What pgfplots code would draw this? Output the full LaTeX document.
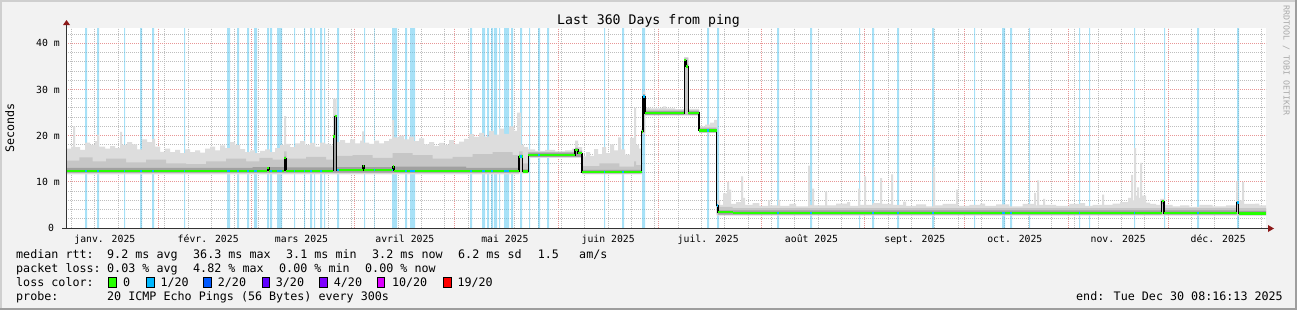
\documentclass[border=0pt]{standalone}
\usepackage{pgfplots}
\pgfplotsset{compat=1.18}
\usepackage{fontspec}
\setmainfont{DejaVu Sans Mono}
\setmonofont{DejaVu Sans Mono}
\definecolor{canvas}{RGB}{242,242,242}
\definecolor{shadea}{RGB}{207,207,207}
\definecolor{shadeb}{RGB}{158,158,158}
\definecolor{lossbg}{RGB}{81,197,241}
\definecolor{smokeA}{RGB}{221,221,221}
\definecolor{smokeB}{RGB}{198,198,198}
\definecolor{smokeC}{RGB}{160,160,160}
\definecolor{mgrid}{RGB}{232,150,150}
\definecolor{ngrid}{RGB}{190,190,190}
\definecolor{arrowred}{RGB}{140,25,25}
\definecolor{wmark}{RGB}{170,170,170}
\definecolor{l0}{HTML}{26FF00}
\definecolor{l1}{HTML}{00B8FF}
\definecolor{l2}{HTML}{0059FF}
\definecolor{l3}{HTML}{5E00FF}
\definecolor{l4}{HTML}{7E00FF}
\definecolor{l10}{HTML}{DD00FF}
\definecolor{l19}{HTML}{FF0000}
\newcommand\legfont{\fontsize{11.7bp}{14bp}\selectfont}
\newcommand\axfont{\fontsize{9.8bp}{12bp}\selectfont}
\newcommand\titfont{\fontsize{13.2bp}{16bp}\selectfont}
\begin{document}
\begin{tikzpicture}
\useasboundingbox (0,0) rectangle (1297bp,-310bp);
\fill[canvas] (0,0) rectangle (1297bp,-310bp);
\fill[shadea] (0,0) rectangle (1297bp,-2bp);
\fill[shadea] (0,0) rectangle (2bp,-310bp);
\fill[shadeb] (0,-308bp) rectangle (1297bp,-310bp);
\fill[shadeb] (1295bp,0) rectangle (1297bp,-310bp);
\fill[white] (66bp,-228bp) rectangle (1266bp,-28bp);
\begin{axis}[
  at={(66bp,-228bp)}, anchor=south west,
  scale only axis, width=1200bp, height=200bp,
  xmin=0, xmax=360, ymin=0, ymax=43.29,
  axis line style={draw=none},
  axis on top=false,
  xtick={27.66,55.66,86.66,116.66,147.66,177.66,208.66,239.66,269.66,300.66,330.66},
  xticklabels={{},{},{},{},{},{},{},{},{},{},{}},
  minor xtick={1.66,8.66,...,358.66},
  extra x ticks={11.66,42.66,70.66,101.66,131.66,162.66,192.66,223.66,254.66,284.66,315.66,345.66},
  extra x tick labels={janv. 2025,févr. 2025,mars 2025,avril 2025,mai 2025,juin 2025,juil. 2025,août 2025,sept. 2025,oct. 2025,nov. 2025,déc. 2025},
  extra x tick style={grid=none, major tick length=0pt},
  ytick={0,10,20,30,40},
  yticklabels={0~~,10 m,20 m,30 m,40 m},
  minor ytick={2,4,...,42},
  grid=both,
  major grid style={draw=mgrid, line width=0.8bp, dash pattern=on 1bp off 1bp},
  minor grid style={draw=ngrid, line width=0.8bp, dash pattern=on 1bp off 1bp},
  major tick length=0pt, minor tick length=0pt,
  tick style={draw=none},
  tick label style={font=\axfont, text=black},
  xticklabel style={anchor=base, inner sep=0pt, yshift=-14bp},
  yticklabel style={anchor=base east, inner sep=0pt, xshift=-6bp, yshift=-3.6bp},
]
% loss background bars (semi-transparent, grid shows through)
\addplot[fill=lossbg, fill opacity=0.5, draw=none, const plot] coordinates {
(0,0) (5.7,43.29) (6.3,0) (9.3,43.29) (9.9,0) (17.4,43.29) (17.7,0) (22.2,43.29) (22.8,0)
(25.8,43.29) (26.4,0) (35.4,43.29) (35.7,0) (48.3,43.29) (49.2,0) (51.3,43.29) (51.9,0)
(54.3,43.29) (54.9,0) (56.4,43.29) (57.3,0) (60.3,43.29) (60.9,0) (61.2,43.29) (61.8,0)
(63.3,43.29) (64.8,0) (68.4,43.29) (68.7,0) (71.4,43.29) (71.7,0) (73.2,43.29) (73.8,0)
(74.4,43.29) (74.7,0) (76.2,43.29) (76.8,0) (77.4,43.29) (77.7,0) (81.3,43.29) (81.9,0)
(89.4,43.29) (89.7,0) (92.4,43.29) (92.6,0) (97.8,43.29) (99.3,0) (101.7,43.29) (102.3,0)
(103.2,43.29) (104.7,0) (121.2,43.29) (121.8,0) (124.8,43.29) (125.7,0) (126.3,43.29) (126.9,0)
(127.5,43.29) (128.1,0) (128.4,43.29) (129.3,0) (129.9,43.29) (130.2,0) (131.4,43.29) (132.9,0)
(133.5,43.29) (134.1,0) (136.2,43.29) (136.8,0) (138.9,43.29) (139.2,0) (141.6,43.29) (142.2,0)
(144.3,43.29) (144.9,0) (161.4,43.29) (161.7,0) (166.8,43.29) (167.4,0) (172.8,43.29) (173.7,0)
(192.3,43.29) (192.9,0) (195.3,43.29) (195.9,0) (213.3,43.29) (213.9,0) (223.2,43.29) (223.8,0)
(237.9,43.29) (238.2,0) (241.8,43.29) (242.4,0) (249.3,43.29) (249.9,0) (259.8,43.29) (260.4,0)
(272.4,43.29) (272.7,0) (280.8,43.29) (281.7,0) (283.2,43.29) (283.8,0) (288.9,43.29) (289.2,0)
(303.9,43.29) (304.2,0) (306.9,43.29) (307.2,0) (320.4,43.29) (320.7,0) (329.4,43.29) (329.7,0)
(339.3,43.29) (339.9,0) (351.3,43.29) (351.9,0) (360,0)
};
% light smoke: max envelope, then min envelope reversed
\addplot[fill=smokeA, draw=none, const plot] coordinates {
(0,17.2) (1.5,17.6) (2.1,22.0) (2.7,17.5) (4.2,16.9) (5.7,18.5) (7.2,18.0) (8.7,18.8) (9.3,20.2)
(9.9,17.6) (11.7,17.2) (13.2,17.7) (14.7,17.3) (16.2,20.8) (16.8,18.0) (18.3,18.6) (19.8,18.1)
(21.3,17.0) (22.8,19.2) (24.3,18.6) (25.8,19.3) (26.7,17.6) (28.2,16.5) (29.7,17.2) (31.2,16.4)
(32.7,16.9) (34.2,16.2) (35.7,17.0) (37.2,16.4) (38.7,16.8) (40.2,16.3) (41.7,17.2) (43.2,17.6)
(44.7,16.8) (46.2,17.9) (47.7,17.3) (49.2,18.6) (50.7,18.0) (52.2,17.1) (53.7,16.4) (55.2,16.8)
(56.7,16.2) (58.2,16.7) (59.7,17.0) (61.2,16.4) (62.7,17.3) (64.2,18.0) (65.4,24.2) (66.0,18.2)
(67.2,17.5) (68.7,18.3) (70.2,18.8) (71.7,18.0) (73.2,18.4) (74.7,17.6) (76.2,18.5) (77.7,18.2)
(79.2,17.9) (80.1,28.0) (81.15,18.6) (82.2,19.0) (83.7,18.4) (85.2,19.2) (86.7,18.3) (88.2,18.9)
(88.8,20.9) (89.4,18.5) (90.9,18.2) (92.4,18.9) (93.9,18.3) (95.4,18.8) (96.9,19.3) (97.8,23.4)
(98.4,19.6) (99.9,20.0) (101.4,19.2) (102.9,19.8) (104.4,18.8) (105.9,19.4) (107.4,18.1) (108.9,18.6)
(110.4,17.8) (111.9,18.4) (113.4,18.0) (114.9,19.0) (116.4,18.2) (117.9,18.7) (119.4,19.3) (120.9,20.3)
(122.4,19.7) (123.9,20.6) (125.4,19.8) (126.9,21.0) (128.4,20.2) (129.9,21.5) (131.4,20.4) (132.9,22.0)
(134.4,21.0) (135.3,25.0) (136.5,18.0) (137.4,17.5) (138.6,17.0) (140.7,16.7) (143.7,16.9) (146.7,16.6)
(149.7,16.8) (151.8,17.2) (152.7,18.9) (153.6,17.5) (154.8,15.5) (156.0,16.4) (157.2,15.6) (158.4,17.1)
(159.6,16.0) (160.8,17.5) (162.0,16.2) (163.2,18.1) (164.4,16.8) (165.6,19.6) (166.5,17.0) (167.7,15.9)
(169.2,19.5) (170.4,26.0) (171.0,18.0) (171.9,17.2) (172.7,21.5) (173.1,29.5) (173.7,26.0) (175.2,25.9)
(178.2,26.0) (179.1,26.3) (180.0,25.9) (182.7,25.7) (185.4,37.0) (186.7,25.8) (189.9,22.0) (191.7,22.4)
(193.2,22.8) (194.4,23.4) (195.3,6.0) (196.2,5.0) (197.1,7.5) (198.3,10.0) (198.9,8.3) (199.5,5.2)
(201.0,5.6) (202.5,11.2) (203.1,6.5) (203.7,5.0) (206,5.4) (208,4.8) (210.6,6.0) (211.2,4.9)
(213.6,6.1) (214.2,4.8) (217,5.2) (219,4.7) (222.6,13.5) (223.2,5.0) (223.8,8.5) (224.4,4.9)
(227.7,7.9) (228.3,4.9) (231,5.3) (234.3,5.6) (235.2,4.8) (237.6,8.5) (238.2,5.0) (239.4,11.2)
(240.0,5.0) (242,5.4) (244.2,10.8) (244.8,5.2) (247.5,11.6) (248.1,5.0) (251.1,5.7) (252.0,4.8)
(255,5.1) (258,4.7) (260.1,13.2) (260.7,4.9) (263,5.2) (267.0,8.3) (267.6,4.8) (271,5.0)
(274.2,5.3) (275.7,4.8) (279,5.1) (283,4.7) (287,5.2) (290.4,7.6) (291.0,4.9) (291.3,10.3)
(291.9,5.0) (293.1,6.3) (293.7,5.0) (297,4.8) (301,5.2) (304.2,5.4) (305.7,4.8) (308,5.0)
(310.8,7.2) (311.4,5.0) (314,5.3) (316.2,5.6) (318.6,6.5) (319.5,11.5) (320.1,6.0) (320.4,17.3)
(321.0,7.0) (321.3,8.8) (321.9,6.5) (322.2,14.1) (322.8,7.0) (324.0,5.5) (325.2,5.2) (327,5.0)
(328.2,6.3) (329.7,5.0) (332,4.7) (334.2,4.9) (337,4.6) (340,5.0) (344,4.7) (348,4.9)
(351.0,10.1) (351.6,6.0) (352.8,10.0) (353.4,5.2) (356.7,5.3) (358,4.9) (360,4.9)
(360,2.7) (195.2,20.6) (189.9,24.3) (173.7,20.4) (172.7,11.6) (154.8,15.2) (138.6,11.8) (135.9,11.6) (0,11.6)
};
% mid smoke
\addplot[fill=smokeB, draw=none, const plot] coordinates {
(0,14.6) (4,15.3) (8,14.4) (12,15.0) (18,14.2) (24,14.8) (30,14.0) (36,13.8) (42,14.4) (48,15.0)
(54,14.4) (58,15.2) (62,14.8) (65.4,16.6) (66.2,15.0) (72,15.4) (78,14.8) (80.1,20.5) (81.2,15.6)
(86,15.8) (92,15.2) (98,16.2) (104,15.8) (110,15.0) (116,15.4) (122,16.0) (128,16.4) (134,15.8)
(135.9,16.6) (137.0,14.0) (138.6,16.5) (152.7,17.4) (153.6,16.8) (154.8,13.4) (160,14.0) (166,13.3)
(170.4,14.4) (171,13.6) (172.7,21.5) (173.1,29.0) (173.7,25.6) (185.5,36.8) (186.7,25.5) (189.9,21.8)
(195.2,5.0) (196,4.6) (200,4.3) (328.7,6.0) (329.4,4.3) (351.2,5.8) (351.8,4.3) (360,4.3)
(360,2.9) (195.2,20.8) (189.9,24.5) (173.7,20.6) (172.7,11.8) (154.8,15.4) (138.6,12.0) (135.9,11.9) (0,11.9)
};
% dark smoke
\addplot[fill=smokeC, draw=none, const plot] coordinates {
(0,13.0) (56,13.2) (65.5,15.5) (66.0,13.1) (80.2,20.1) (80.55,24.5) (81.15,13.2) (98,13.3) (120,13.0)
(135.9,15.9) (137.0,12.7) (138.7,16.3) (152.7,17.3) (153.6,16.6) (154.8,12.6) (172.7,21.3) (173.1,28.9)
(173.7,25.3) (185.5,36.6) (186.0,35.4) (186.7,25.3) (189.9,21.5) (195.2,5.1) (195.6,3.8) (328.7,6.1)
(329.4,3.8) (351.2,5.8) (351.8,3.7) (360,3.7)
(360,2.8) (351.8,5.0) (351.2,2.9) (329.4,5.2) (328.7,2.9) (195.6,4.5) (195.2,20.7) (189.9,24.5)
(186.7,35.2) (185.5,24.5) (173.7,28.0) (173.1,20.5) (172.7,11.8) (154.8,15.4) (138.7,11.9) (137.0,15.1)
(135.9,12.0) (0,12.0)
};
% median: black steps
\addplot[black, line width=1.3bp, const plot] coordinates {
(0,12.4) (60.4,13.0) (60.9,12.4) (65.5,15.1) (66.0,12.4) (80.2,19.8) (80.55,24.2) (81.15,12.5)
(89.1,13.4) (89.5,12.5) (98.1,13.3) (98.5,12.4) (115,12.3) (135.9,15.5) (137.0,12.2) (138.7,15.8)
(152.7,16.9) (153.6,16.2) (154.8,12.1) (172.7,20.9) (173.1,28.5) (173.7,24.9) (185.5,36.3) (186.0,35.0)
(186.7,24.9) (189.9,21.1) (195.2,4.9) (195.6,3.4) (200,3.3) (328.7,5.8) (329.4,3.2) (351.2,5.5)
(351.8,3.1) (360,3.1)
};
% median: green levels (loss 0)
\addplot[l0, line width=2.4bp, unbounded coords=jump] table {
x y
0 12.4
60.4 12.4
nan nan
60.4 13.0
60.9 13.0
nan nan
60.9 12.4
65.5 12.4
nan nan
65.5 15.1
66.0 15.1
nan nan
66.0 12.4
80.2 12.4
nan nan
80.2 19.8
80.55 19.8
nan nan
80.55 24.2
81.15 24.2
nan nan
81.15 12.5
89.1 12.5
nan nan
89.1 13.4
89.5 13.4
nan nan
89.5 12.5
98.1 12.5
nan nan
98.1 13.3
98.5 13.3
nan nan
98.5 12.4
115 12.4
nan nan
115 12.3
135.9 12.3
nan nan
135.9 15.5
137.0 15.5
nan nan
137.0 12.2
138.7 12.2
nan nan
138.7 15.8
152.7 15.8
nan nan
152.7 16.9
153.6 16.9
nan nan
153.6 16.2
154.8 16.2
nan nan
154.8 12.1
172.7 12.1
nan nan
172.7 20.9
173.1 20.9
nan nan
173.1 28.5
173.7 28.5
nan nan
173.7 24.9
185.5 24.9
nan nan
185.5 36.3
186.0 36.3
nan nan
186.0 35.0
186.7 35.0
nan nan
186.7 24.9
189.9 24.9
nan nan
189.9 21.1
195.2 21.1
nan nan
195.2 4.9
195.6 4.9
nan nan
195.6 3.4
200 3.4
nan nan
200 3.3
328.7 3.3
nan nan
328.7 5.8
329.4 5.8
nan nan
329.4 3.2
351.2 3.2
nan nan
351.2 5.5
351.8 5.5
nan nan
351.8 3.1
360 3.1
};
% loss-coloured spots on the median
\addplot[l1, line width=2.4bp, unbounded coords=jump] table {
x y
5.7 12.4
6.3 12.4
nan nan
9.3 12.4
9.9 12.4
nan nan
17.4 12.4
17.7 12.4
nan nan
22.2 12.4
22.8 12.4
nan nan
25.8 12.4
26.4 12.4
nan nan
35.4 12.4
35.7 12.4
nan nan
48.3 12.4
49.2 12.4
nan nan
51.3 12.4
51.9 12.4
nan nan
54.3 12.4
54.9 12.4
nan nan
56.4 12.4
57.3 12.4
nan nan
61.2 12.4
61.8 12.4
nan nan
63.3 12.4
64.8 12.4
nan nan
68.4 12.4
68.7 12.4
nan nan
71.4 12.4
71.7 12.4
nan nan
73.2 12.4
73.8 12.4
nan nan
76.2 12.4
76.8 12.4
nan nan
81.3 12.5
81.9 12.5
nan nan
92.4 12.5
92.6 12.5
nan nan
97.8 12.5
98.1 12.5
nan nan
101.7 12.4
102.3 12.4
nan nan
103.2 12.4
104.7 12.4
nan nan
121.2 12.3
121.8 12.3
nan nan
124.8 12.3
125.7 12.3
nan nan
127.5 12.3
128.1 12.3
nan nan
131.4 12.3
132.9 12.3
nan nan
136.2 15.5
136.8 15.5
nan nan
141.6 15.8
142.2 15.8
nan nan
161.4 12.1
161.7 12.1
nan nan
166.8 12.1
167.4 12.1
nan nan
173.1 28.5
173.7 28.5
nan nan
192.3 21.1
192.9 21.1
nan nan
195.3 4.9
195.6 4.9
nan nan
213.3 3.3
213.9 3.3
nan nan
223.2 3.3
223.8 3.3
nan nan
241.8 3.3
242.4 3.3
nan nan
249.3 3.3
249.9 3.3
nan nan
259.8 3.3
260.4 3.3
nan nan
280.8 3.3
281.7 3.3
nan nan
283.2 3.3
283.8 3.3
nan nan
303.9 3.3
304.2 3.3
nan nan
320.4 3.3
320.7 3.3
nan nan
339.3 3.2
339.9 3.2
nan nan
351.3 5.5
351.8 5.5
};
\end{axis}
% axes with arrows
\draw[black!80, line width=1bp] (66.5bp,-228.5bp) -- (66.5bp,-23bp);
\draw[black!80, line width=1bp] (62bp,-228.5bp) -- (1269bp,-228.5bp);
\fill[arrowred] (63bp,-25bp) -- (70bp,-25bp) -- (66.5bp,-20bp) -- cycle;
\fill[arrowred] (1268bp,-225bp) -- (1268bp,-232bp) -- (1274bp,-228.5bp) -- cycle;
% title, unit, watermark
\node[anchor=base, inner sep=0pt] at (648.5bp,-24bp) {\titfont Last 360 Days from ping};
\node[rotate=90, anchor=base, inner sep=0pt] at (14bp,-128bp) {\legfont Seconds};
\node[rotate=-90, anchor=base west, inner sep=0pt, text=wmark] at (1283.5bp,-5bp) {\fontsize{8.3bp}{10bp}\selectfont RRDTOOL / TOBI OETIKER};
% legend
\node[anchor=base west, inner sep=0pt] at (16bp,-258.3bp) {\legfont median rtt:};
\node[anchor=base west, inner sep=0pt] at (107bp,-258.3bp) {\legfont 9.2 ms avg};
\node[anchor=base west, inner sep=0pt] at (193bp,-258.3bp) {\legfont 36.3 ms max};
\node[anchor=base west, inner sep=0pt] at (286bp,-258.3bp) {\legfont 3.1 ms min};
\node[anchor=base west, inner sep=0pt] at (372bp,-258.3bp) {\legfont 3.2 ms now};
\node[anchor=base west, inner sep=0pt] at (458bp,-258.3bp) {\legfont 6.2 ms sd};
\node[anchor=base west, inner sep=0pt] at (537.7bp,-258.3bp) {\legfont 1.5};
\node[anchor=base west, inner sep=0pt] at (579bp,-258.3bp) {\legfont am/s};
\node[anchor=base west, inner sep=0pt] at (16bp,-272.3bp) {\legfont packet loss:};
\node[anchor=base west, inner sep=0pt] at (107bp,-272.3bp) {\legfont 0.03 \% avg};
\node[anchor=base west, inner sep=0pt] at (193bp,-272.3bp) {\legfont 4.82 \% max};
\node[anchor=base west, inner sep=0pt] at (279bp,-272.3bp) {\legfont 0.00 \% min};
\node[anchor=base west, inner sep=0pt] at (365bp,-272.3bp) {\legfont 0.00 \% now};
\node[anchor=base west, inner sep=0pt] at (16bp,-286.3bp) {\legfont loss color:};
\filldraw[fill=l0, draw=black, line width=0.8bp] (108bp,-277.5bp) rectangle (116bp,-287bp);
\node[anchor=base west, inner sep=0pt] at (123bp,-286.3bp) {\legfont 0};
\filldraw[fill=l1, draw=black, line width=0.8bp] (146.3bp,-277.5bp) rectangle (154bp,-287bp);
\node[anchor=base west, inner sep=0pt] at (160.4bp,-286.3bp) {\legfont 1/20};
\filldraw[fill=l2, draw=black, line width=0.8bp] (203.6bp,-277.5bp) rectangle (211.3bp,-287bp);
\node[anchor=base west, inner sep=0pt] at (217.7bp,-286.3bp) {\legfont 2/20};
\filldraw[fill=l3, draw=black, line width=0.8bp] (262bp,-277.5bp) rectangle (269.7bp,-287bp);
\node[anchor=base west, inner sep=0pt] at (275.7bp,-286.3bp) {\legfont 3/20};
\filldraw[fill=l4, draw=black, line width=0.8bp] (319.7bp,-277.5bp) rectangle (327.4bp,-287bp);
\node[anchor=base west, inner sep=0pt] at (333.7bp,-286.3bp) {\legfont 4/20};
\filldraw[fill=l10, draw=black, line width=0.8bp] (376.9bp,-277.5bp) rectangle (384.6bp,-287bp);
\node[anchor=base west, inner sep=0pt] at (391.8bp,-286.3bp) {\legfont 10/20};
\filldraw[fill=l19, draw=black, line width=0.8bp] (443.2bp,-277.5bp) rectangle (450.9bp,-287bp);
\node[anchor=base west, inner sep=0pt] at (457.3bp,-286.3bp) {\legfont 19/20};
\node[anchor=base west, inner sep=0pt] at (16bp,-300.3bp) {\legfont probe:};
\node[anchor=base west, inner sep=0pt] at (107bp,-300.3bp) {\legfont 20 ICMP Echo Pings (56 Bytes) every 300s};
\node[anchor=base east, inner sep=0pt] at (1283bp,-300.3bp) {\legfont end: Tue Dec 30 08:16:13 2025};
\end{tikzpicture}
\end{document}
